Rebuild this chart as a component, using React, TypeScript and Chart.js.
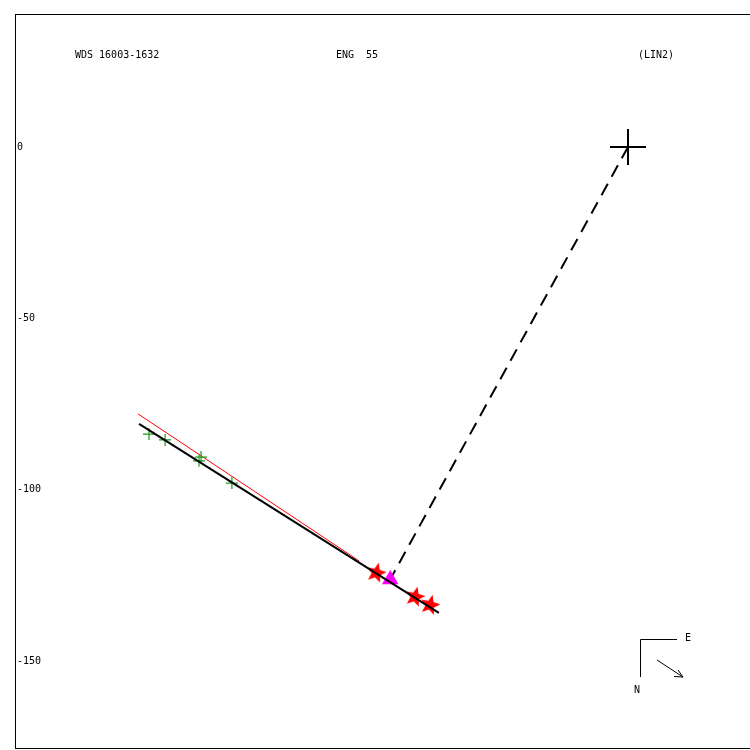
import React, { useEffect, useRef } from "react";
import { Chart, registerables } from "chart.js";

Chart.register(...registerables);

// ---- data ----
const titleLeft = "WDS 16003-1632";
const titleMid = "ENG  55";
const titleRight = "(LIN2)";
const compassE = "E";
const compassN = "N";

const yTickValues = [0, -50, -100, -150];

const primaryX = [0];
const primaryY = [0];

const crossX = [-139.8, -135.1, -125.2, -124.6, -115.6];
const crossY = [-83.8, -85.5, -91.6, -90.5, -98.1];

const starX = [-73.5, -62.2, -57.8];
const starY = [-124.3, -131.3, -133.7];

const triX = [-69.4];
const triY = [-126.2];

const fitLineX = [-142.7, -55.2];
const fitLineY = [-80.8, -136.0];

const redLineX = [-143.0, -78.5];
const redLineY = [-77.9, -120.8];

const dashLineX = [0, -69.4];
const dashLineY = [0, -126.2];

const xMin = -178.9;
const xMax = 35.6;
const yMin = -175.7;
const yMax = 38.8;

const zip = (xs: number[], ys: number[]) => xs.map((x, i) => ({ x, y: ys[i] }));

function makeStar(): HTMLCanvasElement {
  const c = document.createElement("canvas");
  c.width = 22;
  c.height = 22;
  const g = c.getContext("2d")!;
  g.fillStyle = "#ff0000";
  g.beginPath();
  const cx = 11, cy = 11, ro = 10.5, ri = 4.6;
  for (let i = 0; i < 10; i++) {
    const r = i % 2 === 0 ? ro : ri;
    const a = -Math.PI / 2 + (i * Math.PI) / 5 + 0.25;
    const px = cx + r * Math.cos(a);
    const py = cy + r * Math.sin(a);
    if (i === 0) g.moveTo(px, py);
    else g.lineTo(px, py);
  }
  g.closePath();
  g.fill();
  return c;
}

const FONT = '10px "DejaVu Sans Mono", monospace';

const decoPlugin = {
  id: "deco",
  beforeDraw(chart: any) {
    const ctx = chart.ctx;
    ctx.save();
    ctx.fillStyle = "#ffffff";
    ctx.fillRect(0, 0, chart.width, chart.height);
    ctx.restore();
  },
  afterDraw(chart: any) {
    const ctx = chart.ctx;
    const a = chart.chartArea;
    ctx.save();
    ctx.strokeStyle = "#000";
    ctx.lineWidth = 1;
    ctx.strokeRect(a.left + 0.5, a.top + 0.5, a.right - a.left, a.bottom - a.top - 1);

    ctx.fillStyle = "#000";
    ctx.font = FONT;
    ctx.textBaseline = "middle";
    ctx.textAlign = "left";
    ctx.fillText(titleLeft, 75, 55);
    ctx.fillText(titleMid, 336, 55);
    ctx.fillText(titleRight, 638, 55);

    // compass
    ctx.beginPath();
    ctx.moveTo(677, 639.5);
    ctx.lineTo(640.5, 639.5);
    ctx.lineTo(640.5, 677);
    ctx.stroke();
    ctx.fillText(compassE, 685, 638);
    ctx.fillText(compassN, 634, 690);
    ctx.beginPath();
    ctx.moveTo(657, 660);
    ctx.lineTo(683, 677);
    ctx.moveTo(683, 677);
    ctx.lineTo(674, 676.5);
    ctx.moveTo(683, 677);
    ctx.lineTo(678, 670);
    ctx.stroke();
    ctx.restore();
  },
};

export default function App() {
  const ref = useRef<HTMLCanvasElement>(null);
  useEffect(() => {
    const star = makeStar();
    const chart = new Chart(ref.current!, {
      type: "scatter",
      data: {
        datasets: [
          {
            label: "red",
            type: "line",
            data: zip(redLineX, redLineY),
            borderColor: "#ff0000",
            borderWidth: 1,
            pointRadius: 0,
            order: 10,
          },
          {
            label: "dash",
            type: "line",
            data: zip(dashLineX, dashLineY),
            borderColor: "#000",
            borderWidth: 2,
            borderDash: [13, 8],
            pointRadius: 0,
            order: 9,
          },
          {
            label: "crosses",
            data: zip(crossX, crossY),
            pointStyle: "cross",
            pointRadius: 6,
            borderColor: "#1a9a1a",
            borderWidth: 1.2,
            order: 8,
          },
          {
            label: "stars",
            data: zip(starX, starY),
            pointStyle: star as any,
            pointRadius: 10,
            order: 7,
          },
          {
            label: "tri",
            data: zip(triX, triY),
            pointStyle: "triangle",
            pointRadius: 9.5,
            backgroundColor: "#ff00ff",
            borderColor: "#ff00ff",
            borderWidth: 0,
            order: 6,
          },
          {
            label: "fit",
            type: "line",
            data: zip(fitLineX, fitLineY),
            borderColor: "#000",
            borderWidth: 2,
            pointRadius: 0,
            order: 5,
          },
          {
            label: "primary",
            data: zip(primaryX, primaryY),
            pointStyle: "cross",
            pointRadius: 18,
            borderColor: "#000",
            borderWidth: 2,
            order: 4,
          },
        ],
      },
      options: {
        responsive: false,
        animation: false,
        devicePixelRatio: 1,
        layout: { autoPadding: false, padding: { left: 15, top: 14, right: 0, bottom: 1 } },
        plugins: { legend: { display: false }, tooltip: { enabled: false } },
        scales: {
          x: { type: "linear", min: xMin, max: xMax, display: false },
          y: {
            type: "linear",
            min: yMin,
            max: yMax,
            afterFit: (s: any) => {
              s.width = 0;
              s.paddingTop = 0;
              s.paddingBottom = 0;
              s.paddingLeft = 0;
              s.paddingRight = 0;
            },
            afterBuildTicks: (s: any) => {
              s.ticks = yTickValues.map((v) => ({ value: v }));
            },
            grid: { display: false, drawTicks: false },
            border: { display: false },
            ticks: {
              mirror: true,
              padding: 2,
              color: "#000",
              font: { family: '"DejaVu Sans Mono", monospace', size: 10 },
              callback: (v: any) => String(v),
            },
          },
        },
      },
      plugins: [decoPlugin],
    });
    return () => chart.destroy();
  }, []);
  return (
    <div style={{ position: "absolute", left: 0, top: 0, width: 750, height: 750 }}>
      <canvas ref={ref} width={750} height={750} />
    </div>
  );
}
